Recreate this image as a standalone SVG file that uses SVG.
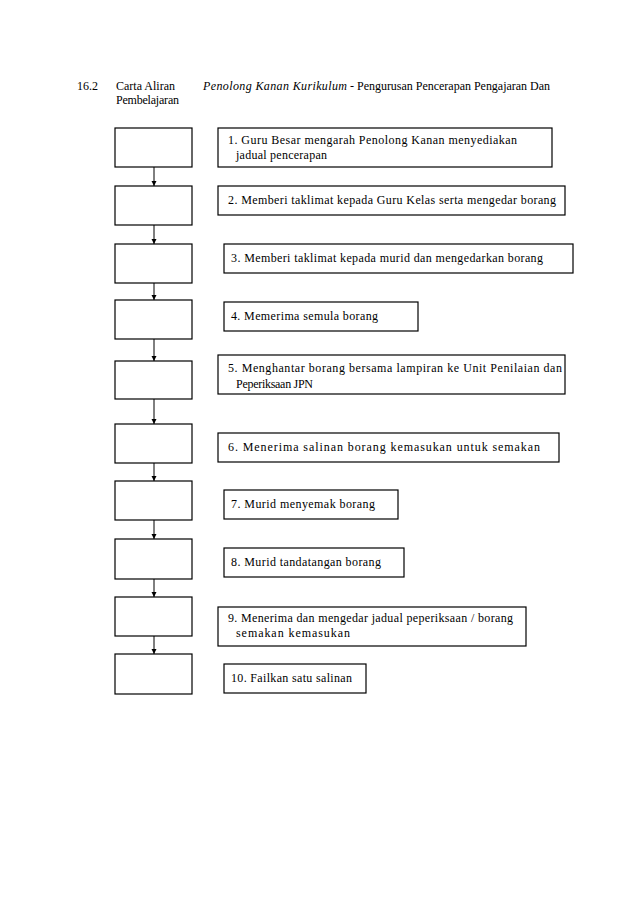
<svg xmlns="http://www.w3.org/2000/svg" width="638" height="902" viewBox="0 0 638 902" font-family="Liberation Serif, Times New Roman, serif" font-size="12">
<defs>
<style>
text{font-family:'Liberation Serif','Times New Roman',serif;font-size:12px;fill:#000}
.b{fill:#fff;stroke:#000;stroke-width:1.2}
.c{stroke:#000;stroke-width:1;fill:none}
.it{font-style:italic}
</style>
<marker id="ah" markerWidth="6" markerHeight="6" refX="5" refY="3" orient="auto" markerUnits="userSpaceOnUse">
<path d="M0,0.5 L5,3 L0,5.5 Z" fill="#000"/>
</marker>
</defs>
<rect width="638" height="902" fill="#fff"/>
<g id="header">
<text x="77" y="90" textLength="21" lengthAdjust="spacing">16.2</text>
<text x="116" y="90" textLength="59" lengthAdjust="spacing">Carta Aliran</text>
<text x="203" y="90" class="it" textLength="144" lengthAdjust="spacing">Penolong Kanan Kurikulum</text>
<text x="350" y="90" textLength="200" lengthAdjust="spacing">- Pengurusan  Pencerapan Pengajaran Dan</text>
<text x="116" y="104" textLength="63" lengthAdjust="spacing">Pembelajaran</text>
</g>
<g id="connectors">
<line class="c" x1="154" y1="167" x2="154" y2="186" marker-end="url(#ah)"/>
<line class="c" x1="154" y1="225" x2="154" y2="244" marker-end="url(#ah)"/>
<line class="c" x1="154" y1="283" x2="154" y2="300" marker-end="url(#ah)"/>
<line class="c" x1="154" y1="339" x2="154" y2="361" marker-end="url(#ah)"/>
<line class="c" x1="154" y1="399" x2="154" y2="424" marker-end="url(#ah)"/>
<line class="c" x1="154" y1="463" x2="154" y2="481" marker-end="url(#ah)"/>
<line class="c" x1="154" y1="520" x2="154" y2="539" marker-end="url(#ah)"/>
<line class="c" x1="154" y1="579" x2="154" y2="597" marker-end="url(#ah)"/>
<line class="c" x1="154" y1="636" x2="154" y2="654" marker-end="url(#ah)"/>
</g>
<g id="node1"><rect class="b" x="115" y="128" width="77" height="39"/><rect class="b" x="218" y="128" width="334" height="39"/>
<text x="228" y="144" textLength="289" lengthAdjust="spacing">1. Guru Besar mengarah  Penolong  Kanan menyediakan</text>
<text x="236" y="159" textLength="91" lengthAdjust="spacing">jadual pencerapan</text></g>
<g id="node2"><rect class="b" x="115" y="186" width="77" height="39"/><rect class="b" x="218" y="186" width="347" height="29"/>
<text x="228" y="204" textLength="328" lengthAdjust="spacing">2. Memberi taklimat  kepada Guru  Kelas serta mengedar  borang</text></g>
<g id="node3"><rect class="b" x="115" y="244" width="77" height="39"/><rect class="b" x="224" y="244" width="349" height="29"/>
<text x="231" y="262" textLength="312" lengthAdjust="spacing">3. Memberi  taklimat  kepada murid  dan mengedarkan  borang</text></g>
<g id="node4"><rect class="b" x="115" y="300" width="77" height="39"/><rect class="b" x="224" y="302" width="194" height="29"/>
<text x="231" y="320" textLength="147" lengthAdjust="spacing">4. Memerima  semula  borang</text></g>
<g id="node5"><rect class="b" x="115" y="361" width="77" height="38"/><rect class="b" x="218" y="355" width="347" height="39"/>
<text x="228" y="372" textLength="334" lengthAdjust="spacing">5. Menghantar  borang bersama lampiran  ke Unit  Penilaian  dan</text>
<text x="236" y="388" textLength="77" lengthAdjust="spacing">Peperiksaan JPN</text></g>
<g id="node6"><rect class="b" x="115" y="424" width="77" height="39"/><rect class="b" x="218" y="433" width="341" height="29"/>
<text x="228" y="451" textLength="312" lengthAdjust="spacing">6. Menerima  salinan  borang  kemasukan  untuk  semakan</text></g>
<g id="node7"><rect class="b" x="115" y="481" width="77" height="39"/><rect class="b" x="224" y="490" width="174" height="29"/>
<text x="231" y="508" textLength="144" lengthAdjust="spacing">7. Murid  menyemak  borang</text></g>
<g id="node8"><rect class="b" x="115" y="539" width="77" height="40"/><rect class="b" x="224" y="548" width="180" height="29"/>
<text x="231" y="566" textLength="150" lengthAdjust="spacing">8. Murid  tandatangan  borang</text></g>
<g id="node9"><rect class="b" x="115" y="597" width="77" height="39"/><rect class="b" x="218" y="607" width="308" height="39"/>
<text x="228" y="622" textLength="285" lengthAdjust="spacing">9. Menerima  dan mengedar  jadual  peperiksaan  / borang</text>
<text x="236" y="637" textLength="114" lengthAdjust="spacing">semakan kemasukan</text></g>
<g id="node10"><rect class="b" x="115" y="654" width="77" height="40"/><rect class="b" x="224" y="664" width="142" height="29"/>
<text x="231" y="682" textLength="121" lengthAdjust="spacing">10. Failkan  satu salinan</text></g>
</svg>
